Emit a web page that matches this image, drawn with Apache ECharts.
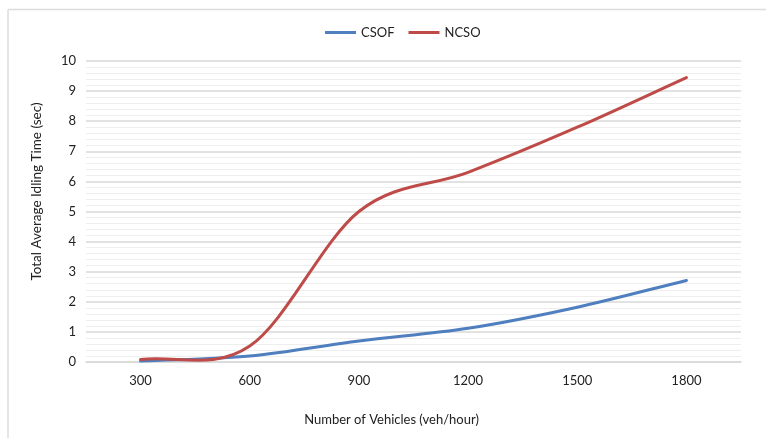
<!DOCTYPE html>
<html>
<head>
<meta charset="utf-8">
<script src="https://cdn.jsdelivr.net/npm/echarts@6/dist/echarts.min.js"></script>
<style>
html,body{margin:0;padding:0;background:#fff;}
#chart{width:766px;height:438px;}
</style>
</head>
<body>
<div id="chart"></div>
<script>
var categories = ['300', '600', '900', '1200', '1500', '1800'];
var csof = [0.03, 0.2, 0.7, 1.12, 1.82, 2.71];
var ncso = [0.08, 0.53, 5.0, 6.3, 7.8, 9.45];
var seriesNames = ['CSOF', 'NCSO'];
var seriesColors = ['#4F7FBE', '#BE4B48'];
var xTitle = 'Number of Vehicles (veh/hour)';
var yTitle = 'Total Average Idling Time (sec)';

var FONT = 'Lato, "Open Sans", sans-serif';

// Spreadsheet-style smoothed line: cubic Bezier through every data point,
// positions taken from the chart's own coordinate system (api.coord).
function smoothRenderer(values, color) {
  return function (params, api) {
    if (params.dataIndex !== 0) return null;
    var p = values.map(function (v, i) { return api.coord([i, v]); });
    var n = p.length;
    var d = 'M' + p[0][0] + ' ' + p[0][1];
    for (var i = 0; i < n - 1; i++) {
      var p0 = p[i], p1 = p[i + 1];
      var pm = i > 0 ? p[i - 1] : null;
      var pn = i + 2 < n ? p[i + 2] : null;
      var c1 = pm ? [p0[0] + (p1[0] - pm[0]) / 6, p0[1] + (p1[1] - pm[1]) / 6]
                  : [p0[0] + (p1[0] - p0[0]) / 3, p0[1] + (p1[1] - p0[1]) / 3];
      var c2 = pn ? [p1[0] - (pn[0] - p0[0]) / 6, p1[1] - (pn[1] - p0[1]) / 6]
                  : [p1[0] - (p1[0] - p0[0]) / 3, p1[1] - (p1[1] - p0[1]) / 3];
      d += ' C' + c1[0] + ' ' + c1[1] + ' ' + c2[0] + ' ' + c2[1] + ' ' + p1[0] + ' ' + p1[1];
    }
    return {
      type: 'path',
      shape: { pathData: d },
      style: { stroke: color, lineWidth: 3, fill: 'none', lineJoin: 'round', lineCap: 'round' },
      silent: true
    };
  };
}

function makeSeries(name, values, color) {
  return {
    name: name,
    type: 'custom',
    coordinateSystem: 'cartesian2d',
    itemStyle: { color: color },
    encode: { x: 0, y: 1 },
    data: values.map(function (v, i) { return [i, v]; }),
    renderItem: smoothRenderer(values, color)
  };
}

var chart = echarts.init(document.getElementById('chart'));
chart.setOption({
  animation: false,
  backgroundColor: '#ffffff',
  color: seriesColors,
  graphic: [
    { type: 'line', shape: { x1: 8, y1: 9.5, x2: 766, y2: 9.5 }, style: { stroke: '#dcdcdc', lineWidth: 1.5 }, silent: true },
    { type: 'line', shape: { x1: 8, y1: 9.5, x2: 8, y2: 438 }, style: { stroke: '#dcdcdc', lineWidth: 1.5 }, silent: true }
  ],
  legend: {
    top: 21,
    left: 320,
    icon: 'rect',
    itemWidth: 31,
    itemHeight: 3,
    itemGap: 14,
    textStyle: { fontFamily: FONT, fontSize: 13, color: '#222' },
    data: seriesNames.map(function (n, i) { return { name: n, itemStyle: { color: seriesColors[i] } }; })
  },
  grid: { left: 86, right: 25, top: 61, bottom: 76, containLabel: false },
  xAxis: {
    type: 'category',
    data: categories,
    boundaryGap: true,
    name: xTitle,
    nameLocation: 'middle',
    nameGap: 51,
    nameTextStyle: { fontFamily: FONT, fontSize: 13, color: '#222', padding: [0, 44, 0, 0] },
    axisLine: { show: true, lineStyle: { color: '#d9d9d9', width: 1.5 } },
    axisTick: { show: false },
    axisLabel: { fontFamily: FONT, fontSize: 13, color: '#222', margin: 12 }
  },
  yAxis: {
    type: 'value',
    min: 0,
    max: 10,
    interval: 1,
    name: yTitle,
    nameLocation: 'middle',
    nameGap: 42,
    nameRotate: 90,
    nameTextStyle: { fontFamily: FONT, fontSize: 13.5, color: '#222', padding: [0, 0, 0, 40] },
    axisLine: { show: false },
    axisTick: { show: false },
    axisLabel: { fontFamily: FONT, fontSize: 13, color: '#222', margin: 10 },
    splitLine: { show: true, lineStyle: { color: '#d9d9d9', width: 1.5 } },
    minorTick: { show: false, splitNumber: 5 },
    minorSplitLine: { show: true, lineStyle: { color: '#eeeeee', width: 1 } }
  },
  series: [
    makeSeries(seriesNames[0], csof, seriesColors[0]),
    makeSeries(seriesNames[1], ncso, seriesColors[1])
  ]
});
</script>
</body>
</html>
